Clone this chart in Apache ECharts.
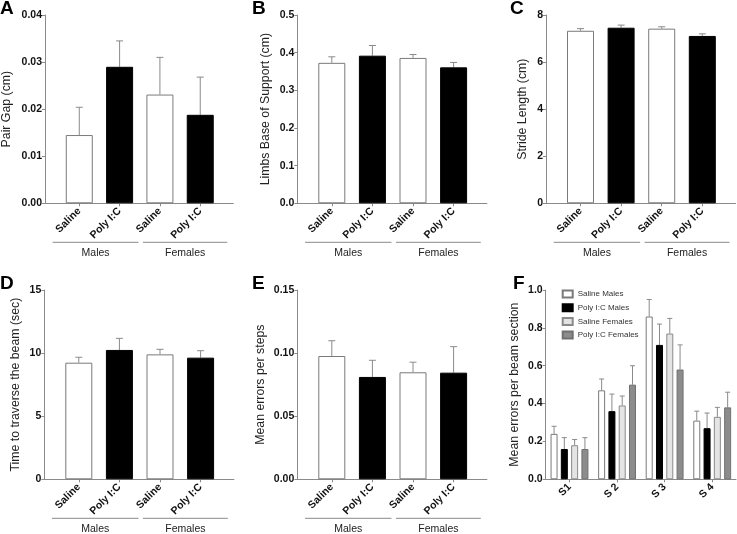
<!DOCTYPE html>
<html>
<head>
<meta charset="utf-8">
<script src="https://cdn.jsdelivr.net/npm/echarts@6/dist/echarts.min.js"></script>
<style>
html,body{margin:0;padding:0;background:#fff;}
#chart{width:737px;height:534px;}
</style>
</head>
<body>
<div id="chart"></div>
<script>
// ---------- data ----------
const groupCats = ['Saline', 'Poly I:C', 'Saline', 'Poly I:C'];
const groupNames = ['Males', 'Females'];

const pairGapMean = [0.0145, 0.0290, 0.0231, 0.0188];
const pairGapSem  = [0.0059, 0.0055, 0.0079, 0.0080];

const baseSupportMean = [0.373, 0.392, 0.386, 0.361];
const baseSupportSem  = [0.016, 0.027, 0.009, 0.013];

const strideMean = [7.33, 7.46, 7.42, 7.11];
const strideSem  = [0.09, 0.11, 0.08, 0.09];

const traverseMean = [9.24, 10.25, 9.90, 9.64];
const traverseSem  = [0.43, 0.92, 0.40, 0.55];

const errorsStepMean = [0.0977, 0.0811, 0.0848, 0.0845];
const errorsStepSem  = [0.0121, 0.0132, 0.0080, 0.0206];

const sectionCats = ['S1', 'S 2', 'S 3', 'S 4'];
const sectionSeriesNames = ['Saline Males', 'Poly I:C Males', 'Saline Females', 'Poly I:C Females'];
const salineMalesMean     = [0.24, 0.47, 0.86, 0.31];
const salineMalesSem      = [0.04, 0.06, 0.09, 0.05];
const polyMalesMean       = [0.16, 0.36, 0.71, 0.27];
const polyMalesSem        = [0.06, 0.09, 0.11, 0.08];
const salineFemalesMean   = [0.18, 0.39, 0.77, 0.33];
const salineFemalesSem    = [0.03, 0.05, 0.08, 0.05];
const polyFemalesMean     = [0.16, 0.50, 0.58, 0.38];
const polyFemalesSem      = [0.06, 0.10, 0.13, 0.08];

const yTicksA = {min: 0, max: 0.04, interval: 0.01, dec: 2};
const yTicksB = {min: 0, max: 0.5, interval: 0.1, dec: 1};
const yTicksC = {min: 0, max: 8, interval: 2, dec: 0};
const yTicksD = {min: 0, max: 15, interval: 5, dec: 0};
const yTicksE = {min: 0, max: 0.15, interval: 0.05, dec: 2};
const yTicksF = {min: 0, max: 1.0, interval: 0.2, dec: 1};

// ---------- styling ----------
const FONT = 'Liberation Sans, Arial, sans-serif';
const AXIS_COLOR = '#8a8a8a';
const ERR_COLOR = '#8a8a8a';
const salineStyle = {color: '#ffffff', borderColor: '#7a7a7a', borderWidth: 1};
const polyStyle = {color: '#000000', borderColor: '#000000', borderWidth: 1};
const fStyles = [
  {color: '#ffffff', borderColor: '#7a7a7a', borderWidth: 1},
  {color: '#000000', borderColor: '#000000', borderWidth: 1},
  {color: '#e4e4e4', borderColor: '#8a8a8a', borderWidth: 1},
  {color: '#8c8c8c', borderColor: '#707070', borderWidth: 1}
];

const grids = [
  {left: 43.7, top: 15, width: 189.6, height: 188.3},
  {left: 297.3, top: 15, width: 189.6, height: 188.3},
  {left: 546, top: 15, width: 189.6, height: 188.3},
  {left: 44.3, top: 290, width: 189.6, height: 189.3},
  {left: 297.3, top: 290, width: 189.6, height: 189.3},
  {left: 545.7, top: 290, width: 190.3, height: 189.3}
];

const panels = [
  {mean: pairGapMean, sem: pairGapSem, ticks: yTicksA, name: 'Pair Gap (cm)', gap: 32},
  {mean: baseSupportMean, sem: baseSupportSem, ticks: yTicksB, name: 'Limbs Base of Support (cm)', gap: 25.5},
  {mean: strideMean, sem: strideSem, ticks: yTicksC, name: 'Stride Length (cm)', gap: 17.5},
  {mean: traverseMean, sem: traverseSem, ticks: yTicksD, name: 'Time to traverse the beam (sec)', gap: 22.5},
  {mean: errorsStepMean, sem: errorsStepSem, ticks: yTicksE, name: 'Mean errors per steps', gap: 30.5}
];

function yAxisFor(t, gi, name, gap) {
  return {
    type: 'value', gridIndex: gi, min: t.min, max: t.max, interval: t.interval,
    name: name, nameLocation: 'middle', nameGap: gap, nameRotate: 90,
    nameTextStyle: {fontFamily: FONT, fontSize: 12.3, color: '#222'},
    axisLine: {show: true, onZero: false, lineStyle: {color: AXIS_COLOR, width: 1}},
    axisTick: {show: true, length: 3, lineStyle: {color: AXIS_COLOR}},
    splitLine: {show: false},
    axisLabel: {
      fontFamily: FONT, fontSize: 10.5, fontWeight: 'bold', color: '#111', margin: 3,
      formatter: v => Number(v).toFixed(t.dec)
    }
  };
}

const xAxes = [], yAxes = [], series = [];

panels.forEach((p, gi) => {
  xAxes.push({
    type: 'value', gridIndex: gi, min: -0.85, max: 3.82,
    axisLine: {show: true, onZero: false, lineStyle: {color: AXIS_COLOR, width: 1}},
    axisTick: {show: true, length: 3, customValues: [0, 1, 2, 3], lineStyle: {color: AXIS_COLOR}},
    splitLine: {show: false},
    axisLabel: {
      customValues: [0, 1, 2, 3], rotate: 45, margin: 6,
      fontFamily: FONT, fontSize: 10.5, fontWeight: 'bold', color: '#111',
      formatter: v => groupCats[Math.round(v)]
    }
  });
  yAxes.push(yAxisFor(p.ticks, gi, p.name, p.gap));
  series.push({
    type: 'bar', xAxisIndex: gi, yAxisIndex: gi, barWidth: 27, silent: true,
    data: p.mean.map((m, i) => ({value: [i, m], itemStyle: (i % 2 === 0 ? salineStyle : polyStyle)})),
    z: 2
  });
  series.push({
    type: 'custom', xAxisIndex: gi, yAxisIndex: gi, silent: true, z: 1,
    data: p.mean.map((m, i) => [i, m, p.sem[i]]),
    encode: {x: 0, y: 1},
    renderItem: (params, api) => {
      const x = api.value(0), m = api.value(1), s = api.value(2);
      const p0 = api.coord([x, m]), p1 = api.coord([x, m + s]);
      const st = {stroke: ERR_COLOR, lineWidth: 1};
      return {type: 'group', children: [
        {type: 'line', shape: {x1: p0[0], y1: p0[1], x2: p1[0], y2: p1[1]}, style: st},
        {type: 'line', shape: {x1: p1[0] - 3.5, y1: p1[1], x2: p1[0] + 3.5, y2: p1[1]}, style: st}
      ]};
    }
  });
  series.push({
    type: 'custom', xAxisIndex: gi, yAxisIndex: gi, silent: true, clip: false,
    data: groupNames.map((g, k) => [k, 0]),
    encode: {x: 0, y: 1},
    renderItem: (params, api) => {
      const k = api.value(0);
      const xs = k === 0 ? -0.66 : 1.58;
      const xe = k === 0 ? 1.47 : 3.67;
      const a = api.coord([xs, 0]), b = api.coord([xe, 0]);
      const yb = a[1];
      return {type: 'group', children: [
        {type: 'line', shape: {x1: a[0], y1: yb + 39, x2: b[0], y2: yb + 39}, style: {stroke: AXIS_COLOR, lineWidth: 1}},
        {type: 'text', x: (a[0] + b[0]) / 2, y: yb + 50,
         style: {text: groupNames[k], fontFamily: FONT, fontSize: 10.5, fill: '#222', align: 'center', verticalAlign: 'middle'}}
      ]};
    }
  });
});

// Panel F
const fMeans = [salineMalesMean, polyMalesMean, salineFemalesMean, polyFemalesMean];
const fSems = [salineMalesSem, polyMalesSem, salineFemalesSem, polyFemalesSem];
const F_BW = 7, F_GAP_RATIO = 0.47;
xAxes.push({
  type: 'category', gridIndex: 5, data: sectionCats, boundaryGap: true,
  axisLine: {show: true, onZero: false, lineStyle: {color: AXIS_COLOR, width: 1}},
  axisTick: {show: true, alignWithLabel: true, length: 3, lineStyle: {color: AXIS_COLOR}},
  axisLabel: {rotate: 45, margin: 6, fontFamily: FONT, fontSize: 10.5, fontWeight: 'bold', color: '#111'}
});
yAxes.push(yAxisFor(yTicksF, 5, 'Mean errors per beam section', 25));
fMeans.forEach((arr, s) => {
  series.push({
    type: 'bar', name: sectionSeriesNames[s], xAxisIndex: 5, yAxisIndex: 5,
    barWidth: F_BW, barGap: (F_GAP_RATIO * 100) + '%', silent: true,
    itemStyle: fStyles[s], data: arr, z: 2
  });
});
const fErrData = [];
fMeans.forEach((arr, s) => arr.forEach((m, c) => fErrData.push([c, s, m, fSems[s][c]])));
series.push({
  type: 'custom', xAxisIndex: 5, yAxisIndex: 5, silent: true, z: 1,
  data: fErrData, encode: {x: 0, y: 2},
  renderItem: (params, api) => {
    const c = api.value(0), s = api.value(1), m = api.value(2), e = api.value(3);
    const n = 4, gap = F_BW * F_GAP_RATIO;
    const total = n * F_BW + (n - 1) * gap;
    const base = api.coord([c, m]);
    const top = api.coord([c, m + e]);
    const x = base[0] - total / 2 + s * (F_BW + gap) + F_BW / 2;
    const st = {stroke: ERR_COLOR, lineWidth: 1};
    return {type: 'group', children: [
      {type: 'line', shape: {x1: x, y1: base[1], x2: x, y2: top[1]}, style: st},
      {type: 'line', shape: {x1: x - 2.5, y1: top[1], x2: x + 2.5, y2: top[1]}, style: st}
    ]};
  }
});

const letters = [['A', 0, 9], ['B', 252, 9], ['C', 510, 9], ['D', 0, 283.5], ['E', 252, 283.5], ['F', 513, 283.5]];

const option = {
  animation: false,
  backgroundColor: '#ffffff',
  grid: grids.map(g => Object.assign({containLabel: false}, g)),
  xAxis: xAxes,
  yAxis: yAxes,
  legend: {
    data: sectionSeriesNames, orient: 'vertical', left: 561.7, top: 288.5, padding: 0,
    itemWidth: 10, itemHeight: 7, itemGap: 2.7, selectedMode: false,
    icon: 'rect',
    textStyle: {fontFamily: FONT, fontSize: 8, lineHeight: 11, color: '#333'}
  },
  graphic: letters.map(l => ({
    type: 'text', x: l[1], y: l[2],
    style: {text: l[0], fontFamily: FONT, fontSize: 19, fontWeight: 'bold', fill: '#000', verticalAlign: 'middle'}
  })),
  series: series
};

const chart = echarts.init(document.getElementById('chart'), null, {renderer: 'canvas'});
chart.setOption(option);
</script>
</body>
</html>
